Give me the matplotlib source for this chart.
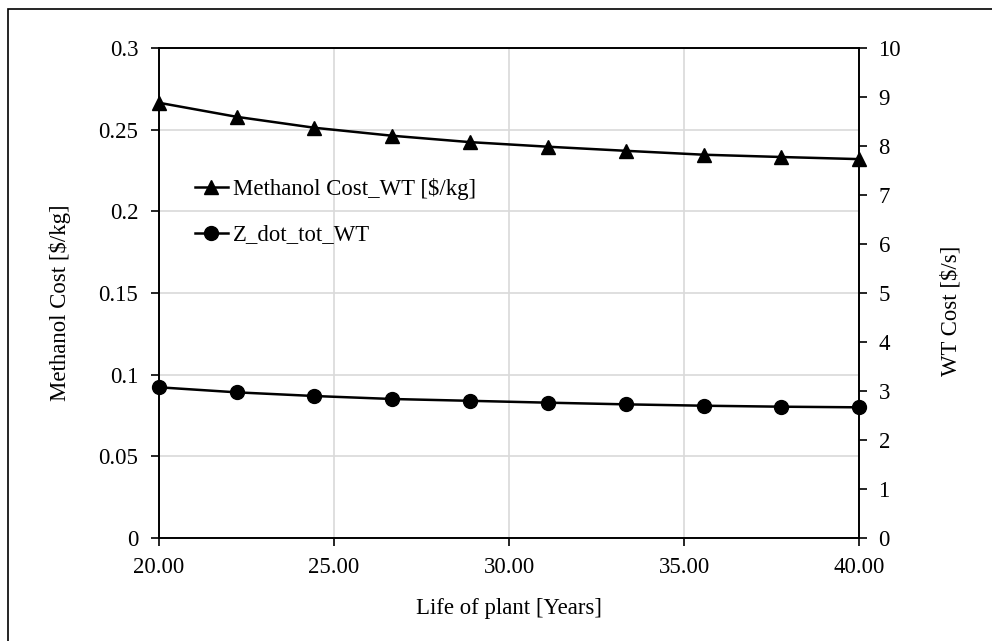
import numpy as np
import matplotlib
matplotlib.use("Agg")
import matplotlib.pyplot as plt
from matplotlib.patches import Rectangle

# Data
life_years = [20.00, 22.22, 24.44, 26.67, 28.89, 31.11, 33.33, 35.56, 37.78, 40.00]
methanol_cost = [0.2665, 0.2579, 0.2512, 0.2463, 0.2424, 0.2396, 0.2371, 0.2347, 0.2333, 0.2320]
z_dot_tot = [3.076, 2.973, 2.898, 2.837, 2.800, 2.762, 2.728, 2.700, 2.680, 2.667]

x_ticks = [20, 25, 30, 35, 40]
left_ticks = [0, 0.05, 0.1, 0.15, 0.2, 0.25, 0.3]
left_labels = ["0", "0.05", "0.1", "0.15", "0.2", "0.25", "0.3"]
right_ticks = list(range(0, 11))

FS = 16.4
plt.rcParams['font.family'] = ['Liberation Serif', 'DejaVu Serif']
plt.rcParams['font.size'] = FS

fig = plt.figure(figsize=(9.92, 6.41), dpi=100)
ax = fig.add_axes([0.1603, 0.1607, 0.866 - 0.1603, 0.925 - 0.1607])
ax2 = ax.twinx()

# outer chart border (cropped at right/bottom in the reference)
fig.patches.append(Rectangle((8 / 992, -0.1), 1.2, 1 - 9 / 641 + 0.1,
                             transform=fig.transFigure, fill=False,
                             edgecolor='black', linewidth=1.2))

ax.set_xlim(20, 40)
ax.set_ylim(0, 0.3)
ax2.set_ylim(0, 10)

ax.set_xticks(x_ticks)
ax.set_xticklabels([f"{v:.2f}" for v in x_ticks])
ax.set_yticks(left_ticks)
ax.set_yticklabels(left_labels)
ax2.set_yticks(right_ticks)

ax.grid(True, color='#d9d9d9', linewidth=1.2)
ax.set_axisbelow(True)

l1, = ax.plot(life_years, methanol_cost, color='black', linewidth=1.8,
              marker='^', markersize=10, label='Methanol Cost_WT [$/kg]', clip_on=False, zorder=5)
l2, = ax2.plot(life_years, z_dot_tot, color='black', linewidth=1.8,
               marker='o', markersize=10, label='Z_dot_tot_WT', clip_on=False, zorder=5)

for a in (ax, ax2):
    for s in a.spines.values():
        s.set_color('black')
        s.set_linewidth(1.2)
    a.tick_params(direction='out', length=6, width=1.2, colors='black', labelsize=FS)
ax.tick_params(axis='y', pad=9)
ax2.tick_params(axis='y', pad=8)
ax.tick_params(axis='x', pad=8)

ax.set_xlabel('Life of plant [Years]', fontsize=FS, labelpad=14)
ax.set_ylabel('Methanol Cost [$/kg]', fontsize=FS, labelpad=20)
ax2.set_ylabel('WT Cost [$/s]', fontsize=FS, labelpad=28)
# Excel centres the axis titles a little below the middle
ax.yaxis.label.set_y(0.48)
ax2.yaxis.label.set_y(0.463)

leg = ax.legend(handles=[l1, l2], loc='upper left', bbox_to_anchor=(0.051, 0.735),
                frameon=False, fontsize=FS, labelspacing=1.08, handlelength=1.45,
                handletextpad=0.22, borderaxespad=0, borderpad=0)

fig.savefig('out.png', dpi=100)
